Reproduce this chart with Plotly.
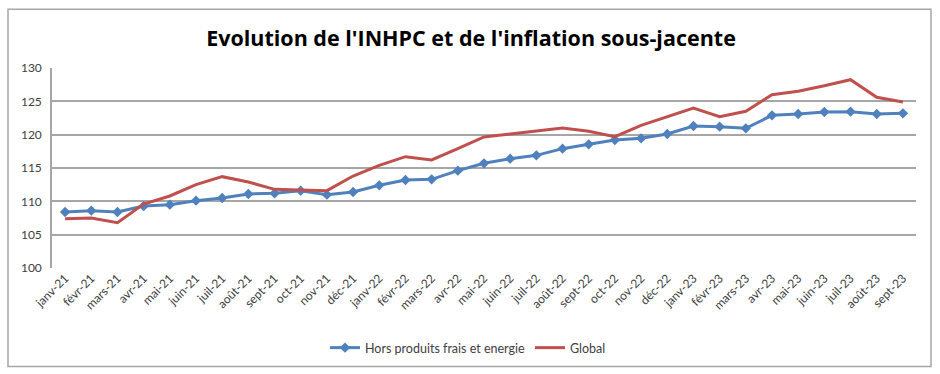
import plotly.graph_objects as go

mois = ["janv-21", "févr-21", "mars-21", "avr-21", "mai-21", "juin-21", "juil-21", "août-21",
        "sept-21", "oct-21", "nov-21", "déc-21", "janv-22", "févr-22", "mars-22", "avr-22",
        "mai-22", "juin-22", "juil-22", "août-22", "sept-22", "oct-22", "nov-22", "déc-22",
        "janv-23", "févr-23", "mars-23", "avr-23", "mai-23", "juin-23", "juil-23", "août-23",
        "sept-23"]

hors_produits = [108.4, 108.6, 108.4, 109.3, 109.5, 110.1, 110.5, 111.1,
                 111.2, 111.6, 111.0, 111.4, 112.4, 113.2, 113.3, 114.6,
                 115.7, 116.4, 116.9, 117.9, 118.55, 119.2, 119.45, 120.1,
                 121.3, 121.2, 120.95, 122.9, 123.1, 123.4, 123.45, 123.1,
                 123.2]

global_ = [107.4, 107.5, 106.8, 109.6, 110.8, 112.5, 113.7, 112.9,
           111.8, 111.7, 111.6, 113.8, 115.4, 116.7, 116.2, 117.9,
           119.65, 120.1, 120.5, 121.0, 120.5, 119.7, 121.4, 122.7,
           124.0, 122.7, 123.5, 126.0, 126.5, 127.35, 128.25, 125.6,
           124.9]

y_ticks = [100, 105, 110, 115, 120, 125, 130]

FONT = "Lato"

fig = go.Figure()
fig.add_trace(go.Scatter(
    x=mois, y=hors_produits, name="Hors produits frais et energie",
    mode="lines+markers",
    line=dict(color="#4F81BD", width=3),
    marker=dict(symbol="diamond", size=8, color="#4F81BD"),
))
fig.add_trace(go.Scatter(
    x=mois, y=global_, name="Global",
    mode="lines",
    line=dict(color="#C0504D", width=3),
))

# outer chart border
fig.add_shape(type="rect", xref="paper", yref="paper",
              x0=(8 - 52) / 864, x1=(931 - 52) / 864,
              y0=(269 - 368) / 201, y1=(269 - 9) / 201,
              line=dict(color="#A6A6A6", width=1.5), layer="below")

fig.update_layout(
    width=940, height=374,
    margin=dict(l=52, r=24, t=68, b=105),
    paper_bgcolor="white", plot_bgcolor="white",
    font=dict(family=FONT, color="#404040", size=11),
    title=dict(text="<b>Evolution de l'INHPC et de l'inflation sous-jacente</b>",
               x=471 / 940, xanchor="center", y=1 - 38 / 374, yanchor="middle",
               font=dict(family="Open Sans", size=21.5, color="#000000")),
    showlegend=True,
    legend=dict(orientation="h", x=(468 - 52) / 864, xanchor="center", y=(269 - 348) / 201,
                yanchor="middle", font=dict(family=FONT, size=12.5, color="#404040"),
                itemwidth=30, bgcolor="rgba(0,0,0,0)"),
    xaxis=dict(
        type="category", tickangle=-45, showgrid=False,
        showline=False, ticks="", tickfont=dict(size=12, color="#404040"),
        range=[-0.5, len(mois) - 0.5], automargin=False,
    ),
    yaxis=dict(
        range=[100, 130], tickvals=y_ticks, showgrid=True,
        gridcolor="#A6A6A6", gridwidth=1.5, zeroline=False,
        showline=True, linecolor="#A6A6A6", linewidth=1.5,
        ticks="", tickfont=dict(size=12, color="#404040"),
        ticklabelstandoff=6, automargin=False,
    ),
)

fig.write_html("out.html", config={"displayModeBar": False})

with open("out.html", "r", encoding="utf-8") as f:
    html = f.read()
html = html.replace("<body>", '<body style="margin:0;padding:0;overflow:hidden">', 1)
with open("out.html", "w", encoding="utf-8") as f:
    f.write(html)
